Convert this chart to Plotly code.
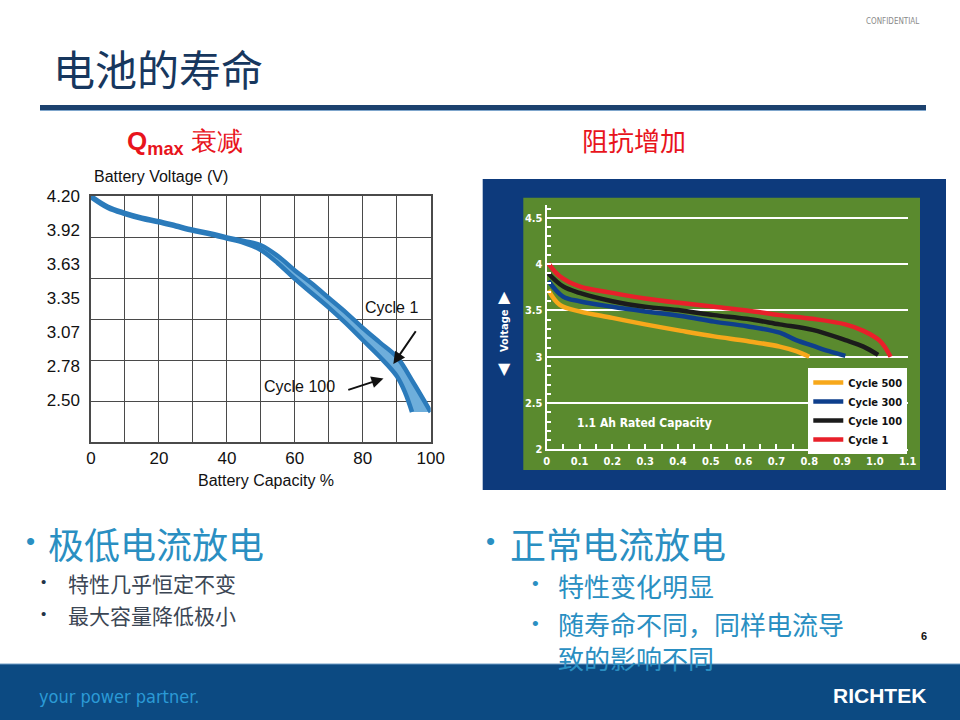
import plotly.graph_objects as go

# ---- left chart: Qmax fade (battery capacity % vs voltage) ----
cap_cycle1 = [0, 5, 10, 15, 20, 25, 30, 35, 40, 45, 50, 55, 60, 65, 70, 75, 80, 85, 90, 95, 100]
v_cycle1 = [4.20, 4.11, 4.06, 4.02, 3.99, 3.955, 3.92, 3.89, 3.855, 3.825, 3.79,
            3.70, 3.58, 3.47, 3.35, 3.23, 3.10, 2.98, 2.86, 2.64, 2.40]
cap_cycle100 = [0, 5, 10, 15, 20, 25, 30, 35, 40, 45, 50, 55, 60, 65, 70, 75, 80, 85, 90, 92.5, 94.5]
v_cycle100 = [4.19, 4.10, 4.05, 4.01, 3.98, 3.945, 3.91, 3.88, 3.845, 3.81, 3.75,
              3.64, 3.51, 3.39, 3.27, 3.14, 3.00, 2.86, 2.70, 2.56, 2.40]
left_yticks = [4.20, 3.92, 3.63, 3.35, 3.07, 2.78, 2.50]
left_xticks = [0, 20, 40, 60, 80, 100]

# ---- right chart: impedance increase (Ah vs voltage) ----
ah_c500 = [0.005, 0.04, 0.10, 0.20, 0.30, 0.41, 0.51, 0.61, 0.71, 0.76, 0.80]
v_c500 = [3.72, 3.56, 3.49, 3.42, 3.35, 3.28, 3.22, 3.17, 3.11, 3.06, 3.00]
ah_c300 = [0.005, 0.05, 0.10, 0.20, 0.30, 0.41, 0.51, 0.61, 0.71, 0.76, 0.81, 0.86, 0.91]
v_c300 = [3.82, 3.65, 3.60, 3.54, 3.49, 3.44, 3.38, 3.33, 3.26, 3.18, 3.12, 3.06, 3.01]
ah_c100 = [0.005, 0.05, 0.10, 0.20, 0.30, 0.41, 0.51, 0.61, 0.71, 0.81, 0.91, 0.965, 1.01]
v_c100 = [3.90, 3.76, 3.69, 3.60, 3.54, 3.50, 3.45, 3.41, 3.35, 3.29, 3.18, 3.11, 3.02]
ah_c1 = [0.005, 0.04, 0.10, 0.20, 0.30, 0.41, 0.51, 0.61, 0.71, 0.81, 0.91, 0.965, 1.016, 1.048]
v_c1 = [4.01, 3.87, 3.76, 3.69, 3.63, 3.58, 3.54, 3.50, 3.45, 3.41, 3.35, 3.28, 3.17, 3.00]
right_xticks = [0, 0.1, 0.2, 0.3, 0.4, 0.5, 0.6, 0.7, 0.8, 0.9, 1.0, 1.1]
right_xtext = ["0", "0.1", "0.2", "0.3", "0.4", "0.5", "0.6", "0.7", "0.8", "0.9", "1.0", "1.1"]
right_yticks = [2, 2.5, 3, 3.5, 4, 4.5]

CJK = "Noto Sans CJK SC, sans-serif"
ARIAL = "Liberation Sans, Arial, sans-serif"
NARROW = "Liberation Sans Narrow, DejaVu Sans Condensed, Arial Narrow, sans-serif"
W, H = 960, 720


def px(x):
    return x / W


def py(y):
    return 1 - y / H


fig = go.Figure()

# left band: cycle 100 (inner) and cycle 1 (outer) with stippled fill between
fig.add_trace(go.Scatter(
    x=cap_cycle100, y=v_cycle100, mode="lines", name="Cycle 100",
    line=dict(color="#2b7bbb", width=4.5, shape="spline"),
    xaxis="x", yaxis="y", showlegend=False,
))
fig.add_trace(go.Scatter(
    x=cap_cycle1, y=v_cycle1, mode="lines", name="Cycle 1",
    line=dict(color="#2b7bbb", width=4.5, shape="spline"),
    fill="tonexty", fillcolor="#6eaedb",
    xaxis="x", yaxis="y", showlegend=False,
))

# right chart curves
for name, xs, ys, col in [
    ("Cycle 500", ah_c500, v_c500, "#f7a81b"),
    ("Cycle 300", ah_c300, v_c300, "#0e3f8c"),
    ("Cycle 100", ah_c100, v_c100, "#1b1b1b"),
    ("Cycle 1", ah_c1, v_c1, "#e8202a"),
]:
    fig.add_trace(go.Scatter(
        x=xs, y=ys, mode="lines", name=name,
        line=dict(color=col, width=4.5, shape="spline"),
        xaxis="x2", yaxis="y2",
    ))

grid_dark = "#4a4a4a"
fig.update_layout(
    template="none",
    width=W, height=H, autosize=False,
    margin=dict(l=0, r=0, t=0, b=0, pad=0),
    paper_bgcolor="white",
    plot_bgcolor="rgba(0,0,0,0)",
    xaxis=dict(
        domain=[px(91), px(430.7)], range=[0, 100], anchor="y", automargin=False,
        tickvals=left_xticks, ticks="", showgrid=True, gridcolor=grid_dark, gridwidth=1,
        minor=dict(dtick=10, showgrid=True, gridcolor=grid_dark, gridwidth=1),
        showline=True, linecolor=grid_dark, linewidth=1.5, mirror=True,
        tickfont=dict(family=ARIAL, size=17, color="#111"), zeroline=False,
    ),
    yaxis=dict(
        domain=[py(442), py(196)], range=[2.15, 4.20], anchor="x", automargin=False,
        tickvals=left_yticks, ticktext=[f"{v:.2f}" for v in left_yticks],
        ticks="", showgrid=False,
        minor=dict(tick0=2.15, dtick=(4.20 - 2.15) / 6, showgrid=True,
                   gridcolor=grid_dark, gridwidth=1),
        showline=True, linecolor=grid_dark, linewidth=1.5, mirror=True,
        tickfont=dict(family=ARIAL, size=17, color="#111"), zeroline=False,
        ticklabelstandoff=6,
    ),
    xaxis2=dict(
        domain=[px(546.7), px(907.7)], range=[0, 1.1], anchor="y2", automargin=False,
        tickvals=right_xticks, ticktext=right_xtext,
        ticks="inside", ticklen=5, tickcolor="white", tickwidth=1.5,
        minor=dict(dtick=0.05, ticks="inside", ticklen=5, tickcolor="white"),
        showgrid=False, showline=True, linecolor="white", linewidth=2,
        tickfont=dict(family=NARROW, size=11, color="white", weight="bold"),
        zeroline=False,
    ),
    yaxis2=dict(
        domain=[py(449.3), py(205)], range=[2, 4.64], anchor="x2", automargin=False,
        tickvals=right_yticks,
        ticks="inside", ticklen=4, tickcolor="white", tickwidth=1.5,
        minor=dict(dtick=0.1, ticks="inside", ticklen=4, tickcolor="white"),
        showgrid=True, gridcolor="white", gridwidth=2,
        showline=True, linecolor="white", linewidth=2,
        tickfont=dict(family=NARROW, size=11, color="white", weight="bold"),
        zeroline=False,
    ),
    legend=dict(
        x=px(808.3), y=py(368), xanchor="left", yanchor="top",
        bgcolor="white", borderwidth=0, traceorder="normal",
        font=dict(family=NARROW, size=11, color="#111", weight="bold"),
        itemwidth=30, tracegroupgap=0,
    ),
    showlegend=True,
)

shapes = [
    # blue frame and green plot panel of right chart
    dict(type="rect", xref="paper", yref="paper", x0=px(482.7), x1=px(946), y0=py(490),
         y1=py(179), fillcolor="#0d3a7c", line=dict(width=0), layer="below"),
    dict(type="rect", xref="paper", yref="paper", x0=px(523.3), x1=px(920), y0=py(470),
         y1=py(197.7), fillcolor="#5a8a2e", line=dict(width=0), layer="below"),
    # title rule
    dict(type="rect", xref="paper", yref="paper", x0=px(40), x1=px(926), y0=py(110),
         y1=py(105), fillcolor="#1c416e", line=dict(width=0), layer="below"),
    dict(type="line", xref="paper", yref="paper", x0=px(40), x1=px(926), y0=py(110.5),
         y1=py(110.5), line=dict(color="#7fa6cc", width=1), layer="below"),
    # bottom banner
    dict(type="rect", xref="paper", yref="paper", x0=0, x1=1, y0=0, y1=py(664),
         fillcolor="#0c4a82", line=dict(width=0), layer="below"),
    dict(type="line", xref="paper", yref="paper", x0=0, x1=1, y0=py(664), y1=py(664),
         line=dict(color="#6f9cc5", width=1), layer="below"),
]
fig.update_layout(shapes=shapes)


def note(text, x, y, size, color, family=CJK, xanchor="left", yanchor="middle", **kw):
    fig.add_annotation(text=text, x=px(x), y=py(y), xref="paper", yref="paper",
                       showarrow=False, xanchor=xanchor, yanchor=yanchor,
                       font=dict(family=family, size=size, color=color), **kw)


# slide header
note("CONFIDENTIAL", 921, 21, 8, "#8a8a8a", family=NARROW, xanchor="right")
note("电池的寿命", 51, 67, 42, "#17375e")

# chart titles
note("<b>Q</b><b><sub>max</sub></b> 衰减", 185, 143, 26, "#e8141c", family=ARIAL, xanchor="center")
note("阻抗增加", 634, 140, 26, "#e8141c", xanchor="center")

# left chart labels
note("Battery Voltage (V)", 92, 176, 16, "#111", family=ARIAL)
note("Battery Capacity %", 266, 481, 16, "#111", family=ARIAL, xanchor="center")
fig.add_annotation(text="Cycle 1", x=88.6, y=3.27, xref="x", yref="y", showarrow=False,
                   font=dict(family=ARIAL, size=16, color="#111"))
fig.add_annotation(text="Cycle 100", x=61.3, y=2.61, xref="x", yref="y", showarrow=False,
                   font=dict(family=ARIAL, size=16, color="#111"))
fig.add_annotation(text="", x=89.0, y=2.80, ax=95.9, ay=3.085, xref="x", yref="y",
                   axref="x", ayref="y", showarrow=True, arrowhead=2, arrowsize=1.2,
                   arrowwidth=2, arrowcolor="#111")
fig.add_annotation(text="", x=86.1, y=2.68, ax=75.3, ay=2.58, xref="x", yref="y",
                   axref="x", ayref="y", showarrow=True, arrowhead=2, arrowsize=1.2,
                   arrowwidth=2, arrowcolor="#111")

# right chart labels
fig.add_annotation(text="<b>1.1 Ah Rated Capacity</b>", x=0.297, y=2.28, xref="x2", yref="y2",
                   showarrow=False, font=dict(family=NARROW, size=12, color="white"))
note("<b>Voltage</b>", 505, 330, 11, "white", family=NARROW, xanchor="center", textangle=-90)
note("▲", 505, 296, 16, "white", family="DejaVu Sans", xanchor="center")
note("▼", 505, 369, 16, "white", family="DejaVu Sans", xanchor="center")

# bullets
teal = "#2a8fc2"
note("•", 24, 541, 26, teal, family=ARIAL)
note("极低电流放电", 46, 543, 36, teal)
note("•", 39, 581, 15, "#243447", family=ARIAL)
note("特性几乎恒定不变", 66, 583, 21, "#3b4654")
note("•", 39, 613, 15, "#243447", family=ARIAL)
note("最大容量降低极小", 66, 615, 21, "#3b4654")

note("•", 484, 541, 26, teal, family=ARIAL)
note("正常电流放电", 508, 543, 36, teal)
note("•", 530, 583, 19, teal, family=ARIAL)
note("特性变化明显", 556, 585, 26, teal)
note("•", 530, 623, 19, teal, family=ARIAL)
note("随寿命不同，同样电流导<br>致的影响不同", 556, 640, 26, teal, align="left")
note("<b>6</b>", 924, 636, 11, "#111", family=ARIAL, xanchor="center")

# footer
note("your power partner.", 37, 696, 18, "#2b9ad6", family=NARROW)
note("<b>RICHTEK</b>", 928, 695, 21, "white", family=ARIAL, xanchor="right")

# the slide fills the whole window, so drop the page's default body margin
fig.write_html("out.html", config={"displayModeBar": False},
               post_script="document.body.style.margin = '0';")
